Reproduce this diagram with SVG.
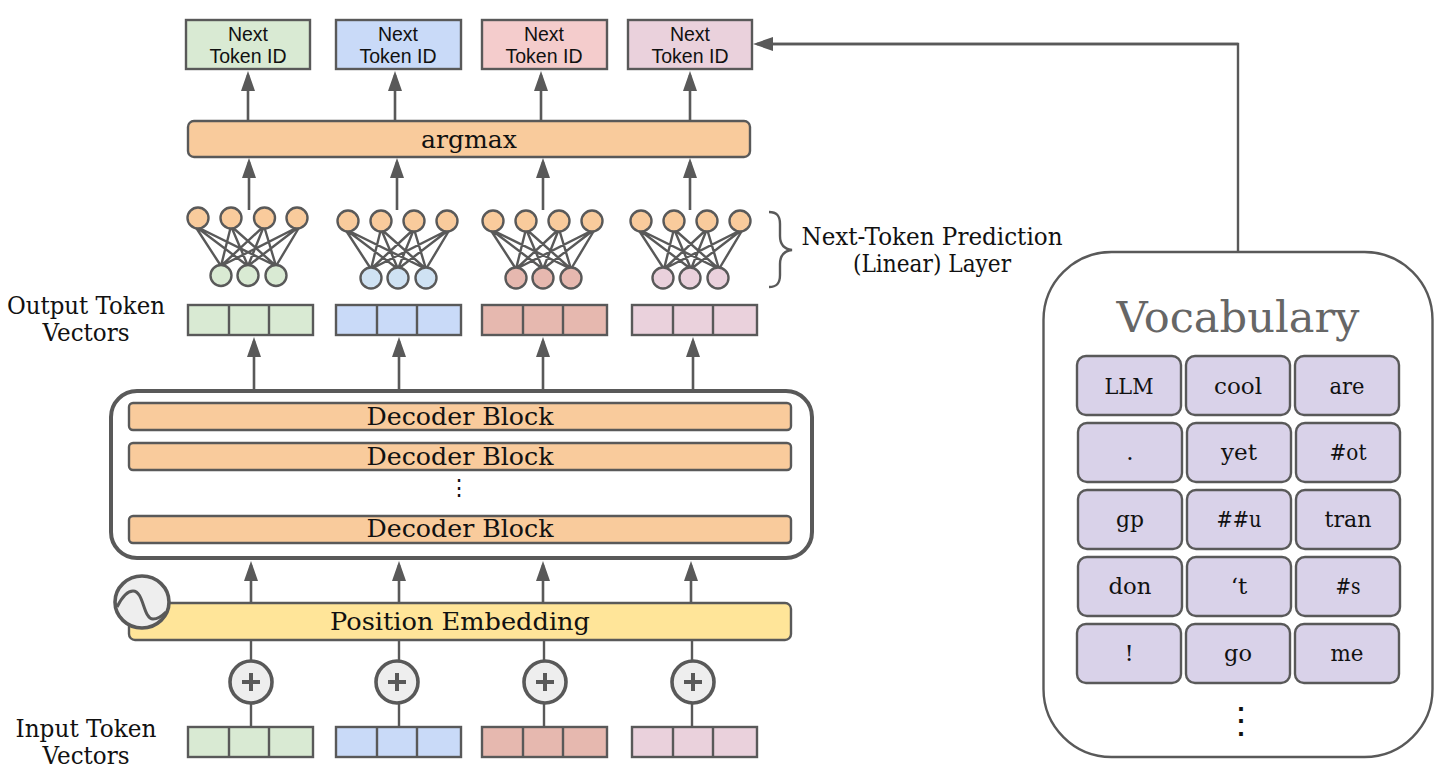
<svg xmlns="http://www.w3.org/2000/svg" xmlns:xlink="http://www.w3.org/1999/xlink" width="1456" height="783" viewBox="0 0 1456 783">
<style>
.b{stroke:#595959;stroke-width:2.4}
.g{fill:#d9ead3}.bl{fill:#c9daf8}.r{fill:#e6b8af}.rt{fill:#f4cccc}.p{fill:#ead1dc}.o{fill:#f9cb9c}.y{fill:#ffe599}.v{fill:#d9d2e9}.lb{fill:#cfe2f3}.w{fill:#fff}
.c{stroke:#595959;stroke-width:2.4;fill:none}
.a{stroke:#595959;stroke-width:2.6;fill:none;marker-end:url(#h)}
.s{font-family:"DejaVu Serif","Liberation Serif",serif;fill:#111;text-anchor:middle}
.t{font-family:"Liberation Sans",Arial,sans-serif;font-size:19.5px;fill:#111;text-anchor:middle}
.m{font-size:24px}
</style>
<defs>
<marker id="h" viewBox="0 0 20 14" refX="16" refY="7" markerWidth="20" markerHeight="14" markerUnits="userSpaceOnUse" orient="auto"><path d="M0 0L20 7L0 14z" fill="#595959"/></marker>
<g id="net" class="c">
<path d="M-3 8L23 48M-3 8L50 48M-3 8L78 48M33 8L23 48M33 8L50 48M33 8L78 48M66 8L23 48M66 8L50 48M66 8L78 48M102 8L23 48M102 8L50 48M102 8L78 48"/>
</g>
<g id="vec3"><path class="c" d="M41 0V30M81 0V30"/></g>
</defs>

<g id="connectors">
<path class="c" d="M251 640V727M399 640V727M544 640V727M692 640V727"/>
<path class="c" d="M1238 252V44H770"/>
<path class="a" d="M1238 44H757"/>
<path class="a" d="M248 122V75"/><path class="a" d="M395 122V75"/><path class="a" d="M541 122V75"/><path class="a" d="M690 122V75"/>
<path class="a" d="M249 210V162"/><path class="a" d="M397 210V162"/><path class="a" d="M543 210V162"/><path class="a" d="M690 210V162"/>
<path class="a" d="M254 391V341"/><path class="a" d="M399 391V341"/><path class="a" d="M543 391V341"/><path class="a" d="M693 391V341"/>
<path class="a" d="M251 603V565"/><path class="a" d="M399 603V565"/><path class="a" d="M543 603V565"/><path class="a" d="M691 603V565"/>
</g>

<g id="token-id-1"><rect class="b g" x="186" y="20" width="124" height="49"/><text class="t" x="248" y="41">Next</text><text class="t" x="248" y="63">Token ID</text></g>
<g id="token-id-2"><rect class="b bl" x="336" y="20" width="125" height="49"/><text class="t" x="398" y="41">Next</text><text class="t" x="398" y="63">Token ID</text></g>
<g id="token-id-3"><rect class="b rt" x="482" y="20" width="125" height="49"/><text class="t" x="544" y="41">Next</text><text class="t" x="544" y="63">Token ID</text></g>
<g id="token-id-4"><rect class="b p" x="628" y="20" width="124" height="49"/><text class="t" x="690" y="41">Next</text><text class="t" x="690" y="63">Token ID</text></g>

<g id="argmax"><rect class="b o" x="188" y="121" width="562" height="36" rx="6"/><text class="s m" x="469" y="148" textLength="96" lengthAdjust="spacingAndGlyphs">argmax</text></g>

<g id="net-1">
<use xlink:href="#net" href="#net" x="198" y="218"/>
<g class="b"><circle class="o" cx="198" cy="218" r="10.5"/><circle class="o" cx="231" cy="218" r="10.5"/><circle class="o" cx="264.500" cy="218" r="10.5"/><circle class="o" cx="297" cy="218" r="10.5"/><circle class="g" cx="221" cy="275.500" r="10.5"/><circle class="g" cx="248" cy="275.500" r="10.5"/><circle class="g" cx="276" cy="275.500" r="10.5"/></g>
</g>
<g id="net-2">
<use xlink:href="#net" href="#net" x="348" y="221"/>
<g class="b"><circle class="o" cx="348" cy="221" r="10.5"/><circle class="o" cx="381" cy="221" r="10.5"/><circle class="o" cx="414" cy="221" r="10.5"/><circle class="o" cx="447" cy="221" r="10.5"/><circle class="lb" cx="371" cy="278" r="10.5"/><circle class="lb" cx="398" cy="278" r="10.5"/><circle class="lb" cx="426" cy="278" r="10.5"/></g>
</g>
<g id="net-3">
<use xlink:href="#net" href="#net" x="493" y="221"/>
<g class="b"><circle class="o" cx="493" cy="221" r="10.5"/><circle class="o" cx="526" cy="221" r="10.5"/><circle class="o" cx="559" cy="221" r="10.5"/><circle class="o" cx="592" cy="221" r="10.5"/><circle class="r" cx="516" cy="278" r="10.5"/><circle class="r" cx="543" cy="278" r="10.5"/><circle class="r" cx="571" cy="278" r="10.5"/></g>
</g>
<g id="net-4">
<use xlink:href="#net" href="#net" x="641" y="221"/>
<g class="b"><circle class="o" cx="641" cy="221" r="10.5"/><circle class="o" cx="674" cy="221" r="10.5"/><circle class="o" cx="707" cy="221" r="10.5"/><circle class="o" cx="740" cy="221" r="10.5"/><circle class="p" cx="663" cy="278" r="10.5"/><circle class="p" cx="690" cy="278" r="10.5"/><circle class="p" cx="718" cy="278" r="10.5"/></g>
</g>

<g id="brace"><path class="c" d="M769 212C777 212 780 216 780 224V236C780 245 784 249 792 250C784 251 780 255 780 264V275C780 283 777 287 769 287"/></g>
<g id="prediction-label"><text class="s m" x="932" y="245" textLength="261" lengthAdjust="spacingAndGlyphs">Next-Token Prediction</text><text class="s m" x="932" y="272" textLength="158" lengthAdjust="spacingAndGlyphs">(Linear) Layer</text></g>
<g id="output-label"><text class="s m" x="86" y="314" textLength="158" lengthAdjust="spacingAndGlyphs">Output Token</text><text class="s m" x="86" y="341" textLength="87" lengthAdjust="spacingAndGlyphs">Vectors</text></g>
<g id="input-label"><text class="s m" x="86" y="737" textLength="141" lengthAdjust="spacingAndGlyphs">Input Token</text><text class="s m" x="86" y="764" textLength="87" lengthAdjust="spacingAndGlyphs">Vectors</text></g>

<g id="out-vec-1"><rect class="b g" x="188" y="305" width="125" height="30"/><use xlink:href="#vec3" href="#vec3" x="188" y="305"/></g>
<g id="out-vec-2"><rect class="b bl" x="336" y="305" width="125" height="30"/><use xlink:href="#vec3" href="#vec3" x="336" y="305"/></g>
<g id="out-vec-3"><rect class="b r" x="482" y="305" width="125" height="30"/><use xlink:href="#vec3" href="#vec3" x="482" y="305"/></g>
<g id="out-vec-4"><rect class="b p" x="632" y="305" width="125" height="30"/><use xlink:href="#vec3" href="#vec3" x="632" y="305"/></g>

<g id="decoder-stack">
<rect class="w" x="111" y="391" width="701" height="167" rx="26" stroke="#595959" stroke-width="4"/>
<rect class="b o" x="129" y="403" width="662" height="27" rx="4"/><text class="s m" x="460" y="425" textLength="187" lengthAdjust="spacingAndGlyphs">Decoder Block</text>
<rect class="b o" x="129" y="443" width="662" height="27" rx="4"/><text class="s m" x="460" y="465" textLength="187" lengthAdjust="spacingAndGlyphs">Decoder Block</text>
<text class="s" x="459" y="495" font-size="22" textLength="4">⋮</text>
<rect class="b o" x="129" y="516" width="662" height="27" rx="4"/><text class="s m" x="460" y="537" textLength="187" lengthAdjust="spacingAndGlyphs">Decoder Block</text>
</g>

<g id="position-embedding"><rect class="b y" x="129" y="603" width="662" height="37" rx="6"/><text class="s m" x="460" y="630" textLength="260" lengthAdjust="spacingAndGlyphs">Position Embedding</text>
<ellipse cx="142" cy="602" rx="27" ry="26" fill="#eeeeee" stroke="#595959" stroke-width="3.6"/>
<path class="c" d="M117 607C122 597 127 591 133 591C144 591 143 619 153 619C158 619 162 616 166 612" style="stroke-width:3"/></g>

<g id="add-1"><circle cx="251" cy="682" r="21" fill="#eeeeee" stroke="#595959" stroke-width="3.6"/><path d="M251 673V691M242 682H260" stroke="#595959" stroke-width="4" fill="none"/></g>
<g id="add-2"><circle cx="397" cy="682" r="21" fill="#eeeeee" stroke="#595959" stroke-width="3.6"/><path d="M397 673V691M388 682H406" stroke="#595959" stroke-width="4" fill="none"/></g>
<g id="add-3"><circle cx="545" cy="682" r="21" fill="#eeeeee" stroke="#595959" stroke-width="3.6"/><path d="M545 673V691M536 682H554" stroke="#595959" stroke-width="4" fill="none"/></g>
<g id="add-4"><circle cx="693" cy="682" r="21" fill="#eeeeee" stroke="#595959" stroke-width="3.6"/><path d="M693 673V691M684 682H702" stroke="#595959" stroke-width="4" fill="none"/></g>

<g id="in-vec-1"><rect class="b g" x="188" y="727" width="125" height="30"/><use xlink:href="#vec3" href="#vec3" x="188" y="727"/></g>
<g id="in-vec-2"><rect class="b bl" x="336" y="727" width="125" height="30"/><use xlink:href="#vec3" href="#vec3" x="336" y="727"/></g>
<g id="in-vec-3"><rect class="b r" x="482" y="727" width="125" height="30"/><use xlink:href="#vec3" href="#vec3" x="482" y="727"/></g>
<g id="in-vec-4"><rect class="b p" x="632" y="727" width="125" height="30"/><use xlink:href="#vec3" href="#vec3" x="632" y="727"/></g>

<g id="vocabulary">
<rect class="w" x="1043.500" y="252" width="389" height="505" rx="68" stroke="#595959" stroke-width="2.4"/>
<text class="s" x="1238" y="332" font-size="43" style="fill:#666" textLength="243" lengthAdjust="spacingAndGlyphs">Vocabulary</text>
<g class="b v">
<rect x="1077" y="356" width="104" height="59" rx="9"/><rect x="1186" y="356" width="104" height="59" rx="9"/><rect x="1295" y="356" width="104" height="59" rx="9"/>
<rect x="1078" y="423" width="104" height="59" rx="9"/><rect x="1187" y="423" width="104" height="59" rx="9"/><rect x="1296" y="423" width="104" height="59" rx="9"/>
<rect x="1078" y="490" width="104" height="59" rx="9"/><rect x="1187" y="490" width="104" height="59" rx="9"/><rect x="1296" y="490" width="104" height="59" rx="9"/>
<rect x="1078" y="557" width="104" height="59" rx="9"/><rect x="1187" y="557" width="104" height="59" rx="9"/><rect x="1296" y="557" width="104" height="59" rx="9"/>
<rect x="1077" y="624" width="104" height="59" rx="9"/><rect x="1186" y="624" width="104" height="59" rx="9"/><rect x="1295" y="624" width="104" height="59" rx="9"/>
</g>
<g class="s" font-size="23" lengthAdjust="spacingAndGlyphs">
<text x="1129" y="394" textLength="49" lengthAdjust="spacingAndGlyphs">LLM</text><text x="1238" y="394" textLength="48" lengthAdjust="spacingAndGlyphs">cool</text><text x="1347" y="394" textLength="35" lengthAdjust="spacingAndGlyphs">are</text>
<text x="1130" y="460">.</text><text x="1239" y="460" textLength="36" lengthAdjust="spacingAndGlyphs">yet</text><text x="1348" y="460" textLength="37" lengthAdjust="spacingAndGlyphs">#ot</text>
<text x="1130" y="527" textLength="28" lengthAdjust="spacingAndGlyphs">gp</text><text x="1239" y="527" textLength="45" lengthAdjust="spacingAndGlyphs">##u</text><text x="1348" y="527" textLength="47" lengthAdjust="spacingAndGlyphs">tran</text>
<text x="1130" y="594" textLength="43" lengthAdjust="spacingAndGlyphs">don</text><text x="1239" y="594">‘t</text><text x="1348" y="594" textLength="25" lengthAdjust="spacingAndGlyphs">#s</text>
<text x="1129" y="661">!</text><text x="1238" y="661" textLength="28" lengthAdjust="spacingAndGlyphs">go</text><text x="1347" y="661" textLength="33" lengthAdjust="spacingAndGlyphs">me</text>
</g>
<text class="s" x="1241" y="733" font-size="36">⋮</text>
</g>
</svg>
